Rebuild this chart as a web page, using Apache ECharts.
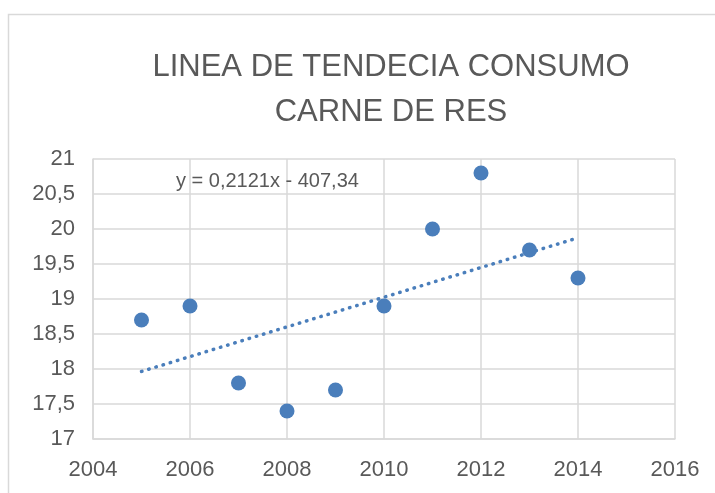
<!DOCTYPE html>
<html>
<head>
<meta charset="utf-8">
<script src="https://cdn.jsdelivr.net/npm/echarts@6/dist/echarts.min.js"></script>
<style>html,body{margin:0;padding:0;background:#fff}#c{width:715px;height:493px}</style>
</head>
<body>
<div id="c"></div>
<script>
const years = [2005, 2006, 2007, 2008, 2009, 2010, 2011, 2012, 2013, 2014];
const consumo = [18.7, 18.9, 17.8, 17.4, 17.7, 18.9, 20.0, 20.8, 19.7, 19.3];
const trendYears = [2005, 2014];
const trendValues = [17.965, 19.874];
const equationText = 'y = 0,2121x - 407,34';
const titleText = 'LINEA DE TENDECIA CONSUMO\nCARNE DE RES';

const FONT = '"Liberation Sans", Arial, sans-serif';
const chart = echarts.init(document.getElementById('c'), null, {renderer: 'canvas'});
const fmt = v => String(v).replace('.', ',');
chart.setOption({
  animation: false,
  backgroundColor: '#fff',
  title: {
    text: titleText,
    left: 386, top: 40, textAlign: 'center',
    textStyle: {fontFamily: FONT, fontSize: 31, fontWeight: 'normal', color: '#595959', lineHeight: 45}
  },
  graphic: [
    {type: 'rect', shape: {x: 8.5, y: 14.5, width: 720, height: 500}, style: {fill: 'none', stroke: '#d9d9d9', lineWidth: 1.5}, silent: true, z: -1},
    {type: 'text', style: {x: 176, y: 181, text: equationText, fontFamily: FONT, fontSize: 20, fill: '#595959', verticalAlign: 'middle'}, z: 10}
  ],
  grid: {left: 93, right: 40, top: 159, bottom: 54},
  xAxis: {
    type: 'value', min: 2004, max: 2016, interval: 2,
    axisLine: {show: true, lineStyle: {color: '#d9d9d9', width: 1.5}},
    axisTick: {show: false},
    splitLine: {show: true, lineStyle: {color: '#d9d9d9', width: 1.5}},
    axisLabel: {margin: 20, fontFamily: FONT, fontSize: 22, color: '#595959', formatter: v => String(v)}
  },
  yAxis: {
    type: 'value', min: 17, max: 21, interval: 0.5,
    axisLine: {show: true, lineStyle: {color: '#d9d9d9', width: 1.5}},
    axisTick: {show: false},
    splitLine: {show: true, lineStyle: {color: '#d9d9d9', width: 1.5}},
    axisLabel: {margin: 18, fontFamily: FONT, fontSize: 22, color: '#595959', formatter: fmt}
  },
  series: [
    {
      type: 'line',
      data: trendYears.map((x, i) => [x, trendValues[i]]),
      showSymbol: false, symbol: 'none',
      lineStyle: {color: '#4a7ebb', width: 3.5, type: [0.5, 7], cap: 'round'},
      z: 2
    },
    {
      type: 'scatter',
      data: years.map((x, i) => [x, consumo[i]]),
      symbolSize: 15,
      itemStyle: {color: '#4a7ebb', opacity: 1},
      z: 3
    }
  ]
});
</script>
</body>
</html>
